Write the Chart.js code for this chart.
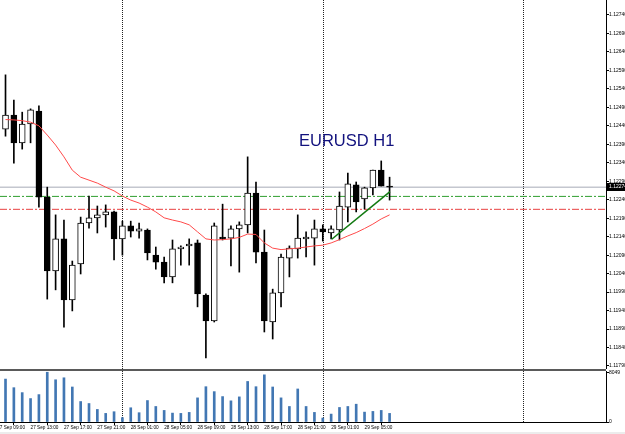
<!DOCTYPE html>
<html><head><meta charset="utf-8">
<script src="https://cdn.jsdelivr.net/npm/chart.js@4.4.0/dist/chart.umd.min.js"></script>
<style>
html,body{margin:0;padding:0;background:#fff;overflow:hidden;width:625px;height:434px;position:relative;}
#main{position:absolute;left:0;top:0;}
#vol{position:absolute;left:0;top:368px;}
#title{position:absolute;left:299px;top:132px;font:16.5px "Liberation Sans",Arial,sans-serif;line-height:16px;color:#12127e;white-space:nowrap;}
#strip{position:absolute;left:0;top:432px;width:625px;height:2px;background:#ececec;}
</style></head>
<body>
<canvas id="main" width="625" height="369"></canvas>
<canvas id="vol" width="625" height="66"></canvas>
<div id="strip"></div>
<div id="title">EURUSD H1</div>
<script>
// ---- data (EURUSD H1, bar index 0 = 27 Sep 10:00) ----
const opens = [1.12431,1.12469,1.12394,1.12445,1.12480,1.12247,1.12047,1.12134,1.11969,1.12066,
               1.12177,1.12191,1.12199,1.12207,1.12134,1.12169,1.12155,1.12158,1.12090,1.12071,
               1.12031,1.12107,1.12115,1.12123,1.11982,1.11912,1.12139,1.12136,1.12161,1.12172,
               1.12258,1.12098,1.11909,1.11988,1.12082,1.12107,1.12134,1.12136,1.12161,1.12150,
               1.12158,1.12220,1.12280,1.12242,1.12272,1.12320,1.12277];
const highs = [1.12578,1.12510,1.12477,1.12486,1.12494,1.12274,1.12199,1.12185,1.12074,1.12193,
               1.12250,1.12223,1.12226,1.12209,1.12182,1.12182,1.12177,1.12161,1.12112,1.12085,
               1.12131,1.12115,1.12134,1.12131,1.11985,1.12177,1.12228,1.12169,1.12180,1.12356,
               1.12288,1.12158,1.11998,1.12093,1.12115,1.12199,1.12153,1.12185,1.12172,1.12169,
               1.12261,1.12312,1.12288,1.12274,1.12320,1.12345,1.12301];
const lows =  [1.12412,1.12339,1.12377,1.12394,1.12220,1.11971,1.11996,1.11895,1.11939,1.12039,
               1.12163,1.12150,1.12166,1.12077,1.12090,1.12139,1.12136,1.12077,1.12052,1.12015,
               1.12015,1.12063,1.12063,1.11950,1.11812,1.11909,1.12131,1.12061,1.12044,1.12150,
               1.12069,1.11882,1.11863,1.11950,1.12031,1.12082,1.12085,1.12063,1.12128,1.12134,
               1.12131,1.12180,1.12207,1.12215,1.12253,1.12277,1.12239];
const closes = [1.12469,1.12394,1.12445,1.12483,1.12247,1.12047,1.12134,1.11969,1.12063,1.12177,
                1.12191,1.12199,1.12207,1.12134,1.12169,1.12155,1.12161,1.12096,1.12071,1.12031,
                1.12107,1.12112,1.12120,1.11985,1.11912,1.12169,1.12134,1.12161,1.12172,1.12258,
                1.12098,1.11912,1.11988,1.12085,1.12109,1.12136,1.12139,1.12161,1.12153,1.12161,
                1.12223,1.12283,1.12234,1.12272,1.12320,1.12277,1.12274];
const maValues = [1.12457,1.12456,1.12454,1.12450,1.12440,1.12415,1.12388,1.12356,1.12320,1.12301,
                  1.12293,1.12285,1.12274,1.12264,1.12250,1.12239,1.12231,1.12220,1.12207,1.12191,
                  1.12185,1.12180,1.12172,1.12153,1.12134,1.12131,1.12132,1.12134,1.12138,1.12147,
                  1.12146,1.12123,1.12109,1.12105,1.12107,1.12109,1.12112,1.12115,1.12117,1.12123,
                  1.12132,1.12142,1.12151,1.12162,1.12174,1.12188,1.12199];
const volumes = [6944,5552,4752,3792,4432,8049,6832,7152,5664,3312,
                 2992,2032,1392,1664,704,2304,1504,3472,2512,1872,
                 1440,1392,1552,3904,5712,4912,4112,3424,4064,6560,
                 5712,7632,5664,3904,2512,5344,2512,1552,640,1280,
                 2352,2512,2880,1600,1712,1872,1392];
const tickBars = [-1,3,7,11,15,19,23,27,31,35,39,43];
const tickLabels = ["27 Sep 09:00","27 Sep 13:00","27 Sep 17:00","27 Sep 21:00","28 Sep 01:00","28 Sep 05:00",
                    "28 Sep 09:00","28 Sep 13:00","28 Sep 17:00","28 Sep 21:00","29 Sep 01:00","29 Sep 05:00"];
const daySeparators = [14,38,62];
const priceTicks = [1.1179,1.1184,1.1189,1.1194,1.1199,1.1204,1.1209,1.1214,1.1219,1.1224,
                    1.1229,1.1234,1.1239,1.1244,1.1249,1.1254,1.1259,1.1264,1.1269,1.1274];
const volumeTicks = [0,8049];
const bidLevel = 1.12274;
const greenLevel = 1.12249;
const redLevel = 1.12214;
const trendBars = [39.07,46.05];
const trendPrices = [1.12133,1.12262];

// ---- layout constants ----
const X_MIN = -0.66, X_MAX = 71.92;
const Y_MIN = 1.117818, Y_MAX = 1.127806;
const FONT = '"Liberation Sans", Arial, sans-serif';

const daySepPlugin = {
  id: 'daySep',
  beforeDatasetsDraw(chart) {
    const {ctx, chartArea: a, scales: {x}} = chart;
    ctx.save();
    ctx.strokeStyle = '#222'; ctx.lineWidth = 1; ctx.setLineDash([1, 1]);
    daySeparators.forEach(b => {
      const px = Math.round(x.getPixelForValue(b)) + 0.5;
      ctx.beginPath(); ctx.moveTo(px, a.top); ctx.lineTo(px, a.bottom); ctx.stroke();
    });
    ctx.restore();
  }
};

const bidLabelPlugin = {
  id: 'bidLabel',
  afterDraw(chart) {
    const {ctx, chartArea: a, scales: {y}} = chart;
    const py = Math.round(y.getPixelForValue(bidLevel));
    ctx.save();
    ctx.fillStyle = '#000';
    ctx.fillRect(a.right + 1, py - 4, 625 - a.right, 8);
    ctx.fillStyle = '#fff';
    ctx.font = '5px ' + FONT;
    ctx.textBaseline = 'middle';
    ctx.textAlign = 'left';
    ctx.fillText(bidLevel.toFixed(5), a.right + 3, py);
    ctx.restore();
  }
};

const hLine = (level, color, dash) => ({
  type: 'line', data: [{x: X_MIN, y: level}, {x: X_MAX, y: level}],
  borderColor: color, borderWidth: 1, borderDash: dash, pointRadius: 0, order: 6
});

new Chart(document.getElementById('main'), {
  type: 'bar',
  data: {
    datasets: [
      hLine(bidLevel, '#a6aab6', []),
      hLine(greenLevel, '#2e9e2e', [7, 2, 2, 2]),
      hLine(redLevel, '#e84040', [7, 2, 2, 2]),
      { type: 'bar', label: 'wicks', data: highs.map((h, i) => ({x: i, y: [lows[i], h]})),
        backgroundColor: '#000', barThickness: 1, grouped: false, order: 4 },
      { type: 'bar', label: 'bodies', data: opens.map((o, i) => ({x: i, y: [o, closes[i]]})),
        backgroundColor: opens.map((o, i) => closes[i] >= o ? '#fff' : '#000'),
        borderColor: '#000', borderWidth: 1, borderSkipped: false, barThickness: 6, grouped: false, order: 3 },
      { type: 'line', label: 'MA', data: maValues.map((v, i) => ({x: i, y: v})),
        borderColor: '#ff4a4a', borderWidth: 1, pointRadius: 0, tension: 0, order: 2 },
      { type: 'line', label: 'trend', data: trendBars.map((b, k) => ({x: b, y: trendPrices[k]})),
        borderColor: '#127a12', borderWidth: 1.6, pointRadius: 0, order: 1 }
    ]
  },
  options: {
    responsive: false, animation: false, events: [],
    layout: {padding: 0},
    plugins: {legend: {display: false}, tooltip: {enabled: false}},
    scales: {
      x: {type: 'linear', min: X_MIN, max: X_MAX, offset: false, display: false},
      y: {
        position: 'right', min: Y_MIN, max: Y_MAX,
        border: {display: true, color: '#000', width: 1},
        grid: {display: true, drawOnChartArea: false, drawTicks: true, tickLength: 3, color: '#000'},
        ticks: {font: {size: 5, family: FONT}, color: '#000', padding: 0, autoSkip: false,
                callback: v => Number(v).toFixed(5)},
        afterBuildTicks: s => { s.ticks = priceTicks.map(v => ({value: v})); },
        afterFit: s => { s.width = 19; s.paddingTop = 0; s.paddingBottom = 0; }
      }
    }
  },
  plugins: [daySepPlugin, bidLabelPlugin]
});

const paneSepPlugin = {
  id: 'paneSep',
  afterDraw(chart) {
    const {ctx, chartArea: a} = chart;
    ctx.save();
    ctx.fillStyle = '#5a5a5a';
    ctx.fillRect(0, 1, a.right, 2);
    ctx.restore();
  }
};

new Chart(document.getElementById('vol'), {
  type: 'bar',
  data: {
    datasets: [{ label: 'Volume', data: volumes.map((v, i) => ({x: i, y: v})),
      backgroundColor: '#4277b3', barThickness: 2, grouped: false }]
  },
  options: {
    responsive: false, animation: false, events: [],
    layout: {padding: {top: 3, left: 0, right: 0, bottom: 0}},
    plugins: {legend: {display: false}, tooltip: {enabled: false}},
    scales: {
      x: {
        type: 'linear', min: X_MIN, max: X_MAX, offset: false, position: 'bottom',
        border: {display: true, color: '#000', width: 1},
        grid: {display: true, drawOnChartArea: false, drawTicks: true, tickLength: 3, color: '#000'},
        ticks: {font: {size: 4.7, family: FONT}, color: '#000', padding: 0, align: 'start',
                autoSkip: false, maxRotation: 0, minRotation: 0,
                callback: v => { const k = tickBars.indexOf(v); return k >= 0 ? tickLabels[k] : ''; }},
        afterBuildTicks: s => { s.ticks = tickBars.map(v => ({value: v})); },
        afterFit: s => { s.height = 12; s.paddingLeft = 0; s.paddingRight = 0; }
      },
      y: {
        position: 'right', min: 0, max: 8250,
        border: {display: true, color: '#000', width: 1},
        grid: {display: true, drawOnChartArea: false, drawTicks: true, tickLength: 3, color: '#000'},
        ticks: {font: {size: 5, family: FONT}, color: '#000', padding: 0, autoSkip: false,
                callback: v => String(v)},
        afterBuildTicks: s => { s.ticks = volumeTicks.map(v => ({value: v})); },
        afterFit: s => { s.width = 19; s.paddingTop = 0; s.paddingBottom = 0; }
      }
    }
  },
  plugins: [daySepPlugin, paneSepPlugin]
});
</script>
</body></html>
